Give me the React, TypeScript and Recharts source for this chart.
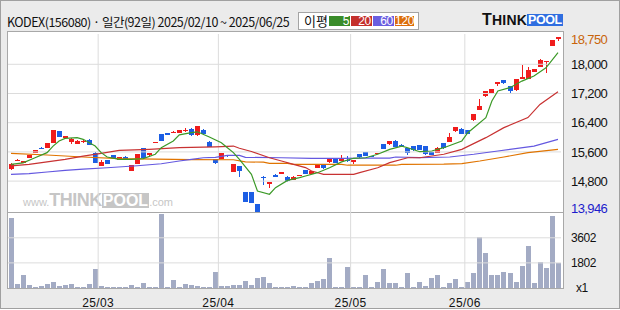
import React from "react";
import { ComposedChart, Bar, Line, XAxis, YAxis, ReferenceLine } from "recharts";

// ── data (KODEX 156080, daily, 2025/02/10 ~ 2025/06/25) ──

const opens = [
    15120, 15370, 15305, 15440, 15580, 15715, 15715, 15850, 16170, 15970,
    15870, 15825, 15870, 15925, 15580, 15220, 15370, 15515, 15380, 15470,
    15085, 15275, 15705, 15505, 15850, 16090, 16110, 16125, 16125, 16180,
    16235, 16055, 16210, 15880, 15395, 15415, 15505, 15060, 15215, 14500,
    14500, 14170, 14920, 14710, 14965, 15005, 14910, 14840, 14940, 15105,
    15005, 15165, 15270, 15330, 15425, 15350, 15380, 15330, 15540, 15595,
    15485, 15550, 15815, 15825, 15900, 15800, 15715, 15750, 15790, 15750,
    15595, 15570, 15835, 15880, 16165, 16235, 16200, 16465, 16750, 17120,
    17220, 17450, 17570, 17395, 17285, 17605, 17605, 17800, 17935, 18070,
    18500, 18700,
];
const highs = [
    15305, 15395, 15360, 15525, 15660, 15725, 15850, 16210, 16180, 16045,
    15970, 15915, 15925, 15960, 15590, 15370, 15380, 15525, 15470, 15495,
    15250, 15550, 15715, 15575, 15880, 16100, 16115, 16165, 16210, 16255,
    16250, 16310, 16215, 15890, 15405, 15575, 15510, 15275, 15220, 14510,
    14510, 14180, 14930, 14785, 14995, 15055, 14950, 14930, 14975, 15110,
    15075, 15275, 15275, 15420, 15430, 15515, 15485, 15385, 15550, 15605,
    15495, 15575, 15825, 15905, 15935, 15805, 15720, 15760, 15800, 15760,
    15605, 15730, 15845, 16110, 16290, 16245, 16210, 16640, 17050, 17270,
    17335, 17515, 17580, 17405, 17600, 17980, 17925, 17880, 18155, 18100,
    18665, 18750,
];
const lows = [
    15095, 15360, 15295, 15430, 15570, 15690, 15705, 15845, 16005, 15960,
    15825, 15815, 15835, 15790, 15295, 15215, 15270, 15415, 15370, 15400,
    15075, 15270, 15425, 15470, 15845, 15900, 16065, 16120, 16120, 16145,
    16045, 16045, 16065, 15725, 15280, 15405, 15470, 15050, 14920, 14230,
    14190, 13946, 14700, 14620, 14915, 14995, 14785, 14830, 14930, 14995,
    14995, 15160, 15120, 15305, 15295, 15345, 15335, 15275, 15445, 15490,
    15455, 15545, 15680, 15790, 15735, 15755, 15525, 15635, 15655, 15525,
    15515, 15560, 15690, 15870, 16155, 16090, 16090, 16455, 16740, 17115,
    17215, 17395, 17470, 17220, 17280, 17600, 17600, 17790, 17925, 17750,
    18490, 18630,
];
const closes = [
    15275, 15385, 15350, 15515, 15650, 15695, 15845, 16200, 16015, 16035,
    15960, 15905, 15890, 15800, 15305, 15325, 15275, 15425, 15460, 15405,
    15240, 15540, 15430, 15570, 15870, 15905, 16070, 16155, 16200, 16200,
    16055, 16300, 16090, 15735, 15285, 15570, 15480, 15270, 15085, 14235,
    14200, 13960, 14875, 14775, 14920, 15050, 14795, 14920, 14965, 15005,
    15065, 15270, 15165, 15415, 15305, 15430, 15340, 15380, 15450, 15495,
    15460, 15570, 15690, 15900, 15745, 15760, 15570, 15640, 15660, 15535,
    15525, 15705, 15695, 16000, 16280, 16100, 16100, 16630, 16855, 17260,
    17325, 17505, 17480, 17270, 17590, 17650, 17835, 17870, 18110, 18090,
    18655, 18745,
];
const volumes = [
    5044, 290, 942, 218, 97, 145, 290, 435, 170, 220,
    290, 50, 50, 290, 1376, 145, 50, 50, 50, 50,
    218, 50, 363, 50, 50, 5285, 50, 555, 50, 290,
    218, 145, 50, 50, 1159, 145, 145, 218, 218, 483,
    218, 725, 797, 363, 50, 50, 50, 145, 50, 50,
    363, 508, 677, 2124, 50, 50, 1521, 50, 50, 942,
    50, 435, 1376, 363, 363, 50, 1087, 50, 435, 145,
    725, 942, 50, 363, 652, 50, 435, 1087, 3693, 2535,
    942, 942, 1159, 1087, 435, 1594, 3041, 363, 1883, 1401,
    5141, 1763,
];

// moving averages, read at [day index, value]
const ma5Pts = [
    [0, 15260], [2, 15300], [4, 15440], [6, 15580], [7, 15760], [8, 15900], [9, 15970],
    [11, 15990], [12, 15945], [14, 15760], [15, 15580], [16, 15460], [18, 15395],
    [20, 15395], [22, 15415], [24, 15535], [25, 15715], [27, 15900], [28, 16065],
    [30, 16130], [31, 16150], [33, 16010], [35, 15850], [36, 15715], [37, 15580],
    [38, 15395], [40, 14985], [41, 14530], [43, 14440], [44, 14620], [46, 14820],
    [48, 14895], [49, 14940], [51, 15030], [53, 15165], [55, 15325], [57, 15425],
    [59, 15440], [61, 15535], [63, 15670], [65, 15760], [66, 15715], [68, 15605],
    [70, 15625], [72, 15715], [75, 15900], [76, 16125], [79, 16540], [80, 16995],
    [81, 17270], [83, 17360], [85, 17540], [87, 17680], [89, 17905], [91, 18320],
];
const ma20Pts = [
    [0, 15215], [3, 15260], [6, 15325], [9, 15395], [12, 15485], [15, 15560],
    [18, 15640], [23, 15670], [28, 15715], [34, 15740], [37, 15760], [38, 15700],
    [40, 15610], [43, 15440], [45, 15350], [47, 15260], [49, 15170], [50, 15075],
    [52, 14985], [57, 14985], [58, 15030], [61, 15165], [63, 15305], [66, 15440],
    [68, 15440], [72, 15535], [75, 15670], [79, 15990], [82, 16265], [86, 16540],
    [88, 16900], [91, 17250],
];
const ma60Pts = [
    [0, 14985], [3, 15005], [6, 15050], [9, 15095], [12, 15130], [16, 15165],
    [21, 15220], [25, 15275], [28, 15350], [30, 15395], [32, 15440], [34, 15450],
    [36, 15505], [38, 15505], [39, 15450], [45, 15440], [50, 15425], [55, 15425],
    [59, 15430], [63, 15430], [64, 15460], [68, 15445], [73, 15460], [77, 15535],
    [81, 15625], [87, 15760], [91, 15945],
];
const ma120Pts = [
    [0, 15560], [6, 15515], [12, 15460], [18, 15415], [30, 15390], [37, 15385],
    [39, 15325], [42, 15320], [43, 15285], [46, 15285], [47, 15260], [55, 15260],
    [56, 15235], [64, 15235], [65, 15260], [72, 15265], [75, 15280], [78, 15350],
    [82, 15460], [86, 15580], [91, 15670],
];

const monthStarts = [15, 35, 57, 76];
const monthLabels = ["25/03", "25/04", "25/05", "25/06"];
const priceGrid = [14800, 15600, 16400, 17200, 18000];
const priceTicks = [13946, 14800, 15600, 16400, 17200, 18000, 18750];
const volTicks = [0, 1802, 3602];

const UP = "#f01c1c";
const DOWN = "#1c5ee4";
const GRID = "#dcdcdc";
const C5 = "#3c9a28";
const C20 = "#c83232";
const C60 = "#6458e0";
const C120 = "#e07400";

const toMap = (pts: number[][]) => new Map(pts.map(([i, v]) => [i, v]));
const m5 = toMap(ma5Pts);
const m20 = toMap(ma20Pts);
const m60 = toMap(ma60Pts);
const m120 = toMap(ma120Pts);

const rows = opens.map((o, i) => ({
    i,
    o,
    h: highs[i],
    l: lows[i],
    c: closes[i],
    range: [lows[i], highs[i]],
    vol: volumes[i],
    ma5: m5.get(i) ?? null,
    ma20: m20.get(i) ?? null,
    ma60: m60.get(i) ?? null,
    ma120: m120.get(i) ?? null,
}));

const NUM_FONT = "'Liberation Sans', Arial, sans-serif";

// ── shapes ─────────────────────────────────────────────────────────────────

function Candle(props: any) {
    const { x, y, width, height, payload } = props;
    const { o, h, l, c } = payload;
    const color = c >= o ? UP : DOWN;
    const k = h > l ? height / (h - l) : 0;
    const yOf = (v: number) => y + (h - v) * k;
    const left = Math.floor(x + width / 2 - 2);
    const top = Math.round(yOf(Math.max(o, c)));
    const bot = Math.round(yOf(Math.min(o, c)));
    return (
        <g>
            <line x1={left + 2.5} x2={left + 2.5} y1={Math.round(y)} y2={Math.round(y + height)} stroke={color} />
            <rect x={left} y={top} width={5} height={Math.max(1, bot - top)} fill={color} />
        </g>
    );
}

function VolBar(props: any) {
    const { x, y, width, height } = props;
    const left = Math.floor(x + width / 2 - 2);
    const top = Math.round(y);
    return <rect x={left} y={top} width={5} height={Math.max(1, Math.round(y + height) - top)} fill="#a3abc4" />;
}

function PriceTick({ x, y, payload }: any) {
    const v = payload.value;
    let fill = "#111";
    let dy = 0;
    if (v === 18750) { fill = "#c8640a"; dy = 2; }
    if (v === 13946) { fill = "#1c1ccc"; dy = -4; }
    return (
        <text x={x + 2} y={y + dy} dy="0.36em" fill={fill} fontSize={13} letterSpacing={-0.6} fontFamily={NUM_FONT}>
            {v.toLocaleString("en-US")}
        </text>
    );
}

function VolTick({ x, y, payload }: any) {
    const v = payload.value;
    return (
        <text x={v === 0 ? x + 7 : x + 2} y={y} dy="0.36em" fill="#111" fontSize={12} letterSpacing={-0.4} fontFamily={NUM_FONT}>
            {v === 0 ? "x1" : v}
        </text>
    );
}

function DateTick({ x, y, payload }: any) {
    const idx = monthStarts.indexOf(payload.value);
    return (
        <text x={x - 3} y={y + 11} textAnchor="middle" fill="#111" fontSize={12} letterSpacing={0.4} fontFamily={NUM_FONT}>
            {monthLabels[idx]}
        </text>
    );
}

// ── page ───────────────────────────────────────────────────────────────────

const legendItems = [
    ["5", "#3a8c2a"],
    ["20", "#c4302c"],
    ["60", "#6a5ee0"],
    ["120", "#dc6e0a"],
];

export default function App() {
    return (
        <div
            style={{
                position: "absolute",
                left: 0,
                top: 0,
                width: 620,
                height: 309,
                boxSizing: "border-box",
                border: "1px solid #a0a0a0",
                background: "#ebebeb",
                fontFamily: "'Noto Sans CJK KR', sans-serif",
            }}
        >
            {/* title */}
            <div style={{ position: "absolute", left: 6, top: 13, fontSize: 12.5, lineHeight: "16px", color: "#111", letterSpacing: -0.5, whiteSpace: "nowrap" }}>
                KODEX(156080) · 일간(92일) 2025/02/10 ~ 2025/06/25
            </div>

            {/* MA legend */}
            <div
                style={{
                    position: "absolute",
                    left: 297,
                    top: 11,
                    width: 121,
                    height: 18,
                    boxSizing: "border-box",
                    border: "1px solid #a4a4a4",
                    background: "#fff",
                    display: "flex",
                    alignItems: "center",
                    fontSize: 13,
                    color: "#111",
                    whiteSpace: "nowrap",
                }}
            >
                <span style={{ marginLeft: 5, width: 25, lineHeight: "14px", flexShrink: 0 }}>이평</span>
                {legendItems.map(([t, c]) => (
                    <span
                        key={t}
                        style={{
                            background: c,
                            color: "#fff",
                            width: t === "120" ? 19 : 21,
                            height: 10,
                            marginRight: 1,
                            flexShrink: 0,
                            textAlign: "right",
                            fontSize: 12,
                            lineHeight: "10px",
                            fontFamily: NUM_FONT,
                            letterSpacing: -0.3,
                            paddingRight: 1,
                            boxSizing: "border-box",
                        }}
                    >
                        {t}
                    </span>
                ))}
            </div>

            {/* THINKPOOL logo */}
            <div style={{ position: "absolute", left: 481, top: 13, display: "flex", alignItems: "flex-end", fontFamily: NUM_FONT, fontWeight: 700 }}>
                <span style={{ fontSize: 14, lineHeight: "12px", letterSpacing: 0.2, color: "#111" }}>
                    <span style={{ fontSize: 16 }}>T</span>HINK
                </span>
                <span style={{ fontSize: 12.5, lineHeight: "12px", letterSpacing: -0.4, color: "#fff", background: "#2f6ee0", padding: "0 1px" }}>POOL</span>
            </div>

            {/* plot frame */}
            <div style={{ position: "absolute", left: 6, top: 30, width: 557, height: 258, boxSizing: "border-box", border: "1px solid #a8a8a8", background: "#fff" }} />
            <div style={{ position: "absolute", left: 6, top: 211, width: 557, height: 1, background: "#a8a8a8" }} />

            {/* watermark */}
            <div style={{ position: "absolute", left: 22, top: 189, fontFamily: NUM_FONT, color: "#c6c6c6", whiteSpace: "nowrap", display: "flex", alignItems: "baseline" }}>
                <span style={{ fontSize: 11 }}>www.</span>
                <span style={{ fontSize: 18, fontWeight: 700, letterSpacing: -0.5 }}>THINK</span>
                <span style={{ fontSize: 16, fontWeight: 700, color: "#fff", background: "#c6c6c6", lineHeight: "15px", padding: "0 1px" }}>POOL</span>
                <span style={{ fontSize: 11 }}>.com</span>
            </div>

            {/* price panel */}
            <div style={{ position: "absolute", left: 7, top: 26 }}>
                <ComposedChart width={608} height={191} data={rows} margin={{ top: 7, right: 0, bottom: 5, left: 0 }}>
                    <XAxis dataKey="i" type="category" hide />
                    <YAxis
                        orientation="right"
                        width={55}
                        domain={[13926, 18830]}
                        allowDataOverflow
                        ticks={priceTicks}
                        interval={0}
                        axisLine={false}
                        tickLine={false}
                        tick={<PriceTick />}
                    />
                    {priceGrid.map((v) => (
                        <ReferenceLine key={v} y={v} stroke={GRID} />
                    ))}
                    {monthStarts.map((m) => (
                        <ReferenceLine key={m} x={m} stroke={GRID} position="start" />
                    ))}
                    <Line dataKey="ma120" stroke={C120} dot={false} connectNulls strokeWidth={1.2} isAnimationActive={false} />
                    <Line dataKey="ma60" stroke={C60} dot={false} connectNulls strokeWidth={1.2} isAnimationActive={false} />
                    <Line dataKey="ma20" stroke={C20} dot={false} connectNulls strokeWidth={1.2} isAnimationActive={false} />
                    <Line dataKey="ma5" stroke={C5} dot={false} connectNulls strokeWidth={1.2} isAnimationActive={false} />
                    <Bar dataKey="range" shape={<Candle />} isAnimationActive={false} />
                </ComposedChart>
            </div>

            {/* volume panel */}
            <div style={{ position: "absolute", left: 7, top: 212 }}>
                <ComposedChart width={608} height={97} data={rows} margin={{ top: 0, right: 0, bottom: 0, left: 0 }}>
                    <XAxis
                        dataKey="i"
                        type="category"
                        ticks={monthStarts}
                        interval={0}
                        height={22}
                        axisLine={false}
                        tickLine={false}
                        tick={<DateTick />}
                    />
                    <YAxis
                        orientation="right"
                        width={55}
                        domain={[0, 5380]}
                        ticks={volTicks}
                        interval={0}
                        axisLine={false}
                        tickLine={false}
                        tick={<VolTick />}
                    />
                    {volTicks.slice(1).map((v) => (
                        <ReferenceLine key={v} y={v} stroke={GRID} />
                    ))}
                    {monthStarts.map((m) => (
                        <ReferenceLine key={m} x={m} stroke={GRID} position="start" />
                    ))}
                    <Bar dataKey="vol" shape={<VolBar />} isAnimationActive={false} />
                </ComposedChart>
            </div>
        </div>
    );
}
